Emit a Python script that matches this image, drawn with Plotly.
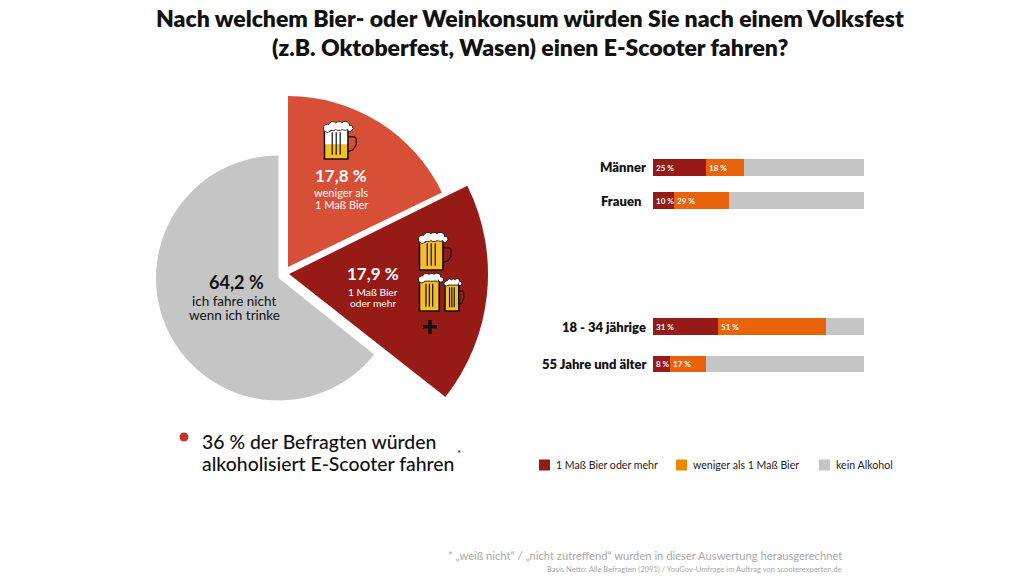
import plotly.graph_objects as go

W, H = 1032, 580
FONT = "Lato"

# ---- data
pie_labels = ["weniger als 1 Maß Bier", "1 Maß Bier oder mehr", "ich fahre nicht wenn ich trinke"]
pie_values = [17.8, 17.9, 64.2]

groups = ["Männer", "Frauen", "18 - 34 jährige", "55 Jahre und älter"]
heavy = [25, 10, 31, 8]
light = [18, 26, 51, 17]
none_ = [57, 64, 18, 75]
heavy_text = ["25 %", "10 %", "31 %", "8 %"]
light_text = ["18 %", "29 %", "51 %", "17 %"]
legend_labels = ["1 Maß Bier oder mehr", "weniger als 1 Maß Bier", "kein Alkohol"]

# ---- styling / layout
C_RED, C_DARK, C_GREY = "#D84F38", "#961B17", "#C5C5C5"
C_ORANGE, C_LEG_ORANGE = "#E8630A", "#EB8A00"
C_INK = "#111111"
row_px = [167.5, 200.7, 326.7, 364]
label_right = [646, 641, 646, 646]
legend_x = [539, 676, 819]
legend_y = 465


def px(x):
    return x / W


def py(y):
    return 1 - y / H


fig = go.Figure()
CLEAR = "rgba(0,0,0,0)"
wedges = [(0, C_RED, 288, 267, 171, 0), (1, C_DARK, 289, 274, 199, -0.5), (2, C_GREY, 278.5, 278, 122.5, 0)]
for idx, col, cx, cy, r, rot in wedges:
    colors = [CLEAR] * 3
    colors[idx] = col
    fig.add_trace(go.Pie(
        labels=pie_labels, values=pie_values, sort=False, direction="clockwise", rotation=rot,
        textinfo="none", showlegend=False,
        marker=dict(colors=colors, line=dict(width=0)),
        domain=dict(x=[px(cx - r), px(cx + r)], y=[py(cy + r), py(cy - r)]),
    ))

bar_common = dict(y=row_px, orientation="h", width=16.5, textposition="inside",
                  insidetextanchor="start", textangle=0, constraintext="none",
                  cliponaxis=False, marker_line_width=0, showlegend=False)
small_font = dict(family=FONT, size=8, color="white", weight="bold")
fig.add_trace(go.Bar(x=heavy, name=legend_labels[0], marker_color=C_DARK, text=heavy_text,
                     textfont=small_font, customdata=groups, **bar_common))
fig.add_trace(go.Bar(x=light, name=legend_labels[1], marker_color=C_ORANGE, text=light_text,
                     textfont=small_font, customdata=groups, **bar_common))
fig.add_trace(go.Bar(x=none_, name=legend_labels[2], marker_color=C_GREY, customdata=groups, **bar_common))

ann = []


def T(x, y, text, size, color=C_INK, bold=False, anchor="center", weight=None):
    ann.append(dict(xref="paper", yref="paper", x=px(x), y=py(y), text=text, showarrow=False,
                    xanchor=anchor, yanchor="middle", align=anchor, borderpad=0, borderwidth=0,
                    font=dict(family=FONT, size=size, color=color,
                              weight=weight or ("bold" if bold else "normal"))))


T(529.5, 18, "Nach welchem Bier- oder Weinkonsum würden Sie nach einem Volksfest", 23, weight=800)
T(529.5, 47, "(z.B. Oktoberfest, Wasen) einen E-Scooter fahren?", 23, weight=800)

T(341, 175, "17,8 %", 17, "white", True)
T(341, 192, "weniger als", 11, "white")
T(341, 204, "1 Maß Bier", 11, "white")
T(373, 273, "17,9 %", 17, "white", True)
T(373, 292, "1 Maß Bier", 10.2, "white")
T(373, 302.5, "oder mehr", 10.2, "white")
T(236, 282, "64,2 %", 18, C_INK, True)
T(234, 301, "ich fahre nicht", 13.5)
T(234, 315, "wenn ich trinke", 13.5)

T(202, 441, "36 % der Befragten würden", 19.4, anchor="left", weight=500)
T(202, 463, "alkoholisiert E-Scooter fahren", 19.4, anchor="left", weight=500)
T(456.5, 453, "*", 10, anchor="left")

for g, y, xr in zip(groups, row_px, label_right):
    T(xr, y, g, 13, anchor="right", weight=800)

shapes = []
for x, lab, col in zip(legend_x, legend_labels, [C_DARK, C_LEG_ORANGE, C_GREY]):
    shapes.append(dict(type="rect", xref="paper", yref="paper", x0=px(x), x1=px(x + 11),
                       y0=py(legend_y + 5.5), y1=py(legend_y - 5.5), fillcolor=col, line_width=0))
    T(x + 16.5, legend_y, lab, 10.6, "#222222", anchor="left")

T(842, 555, "* „weiß nicht“ / „nicht zutreffend“ wurden in dieser Auswertung herausgerechnet", 11.2, "#AAAAAA", anchor="right")
T(842, 569, "Basis Netto: Alle Befragten (2091) / YouGov-Umfrage im Auftrag von scooterexperten.de", 7.6, "#AAAAAA", anchor="right")


def poly(points, fill, line=None, lw=0, close=True):
    d = "M" + " L".join(f"{px(a):.5f},{py(b):.5f}" for a, b in points) + (" Z" if close else "")
    shapes.append(dict(type="path", xref="paper", yref="paper", path=d, fillcolor=fill,
                       line=dict(color=line or CLEAR, width=lw)))


def rect(x0, y0, x1, y1, fill, line=None, lw=0):
    shapes.append(dict(type="rect", xref="paper", yref="paper", x0=px(x0), x1=px(x1), y0=py(y1), y1=py(y0),
                       fillcolor=fill, line=dict(color=line or CLEAR, width=lw)))


def mug(x, y, w, h, level=0.0, handle=True):
    """Icon in a box; level = share of the glass left white below the foam."""
    bw = w * 0.74
    top = y + h * 0.2
    bot = y + h
    if handle:
        hx = x + bw
        poly([(hx, top + h * .2), (hx + w * .2, top + h * .2), (hx + w * .25, top + h * .25),
              (hx + w * .25, top + h * .42), (hx + w * .15, top + h * .55), (hx, top + h * .6)],
             CLEAR, "#111111", 1.2, close=False)
    rect(x + 1, top, x + bw, bot, "#F7BE2B", "#111111", 1.6)
    if level:
        rect(x + 1.8, top + 1, x + bw - .8, top + (bot - top) * level, "white")
    for f in (0.33, 0.5, 0.67):
        sx = x + 1 + (bw - 1) * f
        rect(sx - .6, top + h * .08, sx + .6, top + (bot - top) * .86, "#111111")
    # foam
    puffs = [(.12, .17, .12), (.28, .11, .13), (.47, .11, .13), (.66, .10, .13), (.80, .17, .09)]
    for fx, fy, fr in puffs:
        cx, cy, r = x + w * fx, y + h * fy, w * fr
        shapes.append(dict(type="circle", xref="paper", yref="paper", x0=px(cx - r), x1=px(cx + r),
                           y0=py(cy + r), y1=py(cy - r), fillcolor="white", line=dict(color="#111111", width=1)))
    for fx, fy, fr in puffs:
        cx, cy, r = x + w * fx, y + h * fy, w * fr
        shapes.append(dict(type="circle", xref="paper", yref="paper", x0=px(cx - r + .5), x1=px(cx + r - .5),
                           y0=py(cy + r - .5), y1=py(cy - r + .5), fillcolor="white", line_width=0))
    rect(x + w * .12, y + h * .1, x + w * .7, y + h * .2, "white")


mug(323.5, 122, 33, 37, level=0.5)
mug(418.5, 233, 33, 37)
mug(444, 278, 20, 33)
mug(418.5, 273, 28, 38, handle=False)
rect(423, 325, 437, 328.5, "#111111")
rect(428.2, 320, 431.8, 334, "#111111")
shapes.append(dict(type="circle", xref="paper", yref="paper", x0=px(179.5), x1=px(188.5), y0=py(441.5), y1=py(432.5),
                   fillcolor="#C8352A", line_width=0))

fig.update_layout(
    width=W, height=H, margin=dict(l=0, r=0, t=0, b=0, pad=0),
    paper_bgcolor="white", plot_bgcolor="white", barmode="stack", bargap=0,
    xaxis=dict(domain=[px(653), px(864)], range=[0, 100], visible=False, fixedrange=True),
    yaxis=dict(domain=[0, 1], range=[H, 0], visible=False, fixedrange=True),
    annotations=ann, shapes=shapes, hovermode="closest",
)
fig.write_html("out.html", config={"displayModeBar": False}, post_script="document.body.style.margin='0';")
